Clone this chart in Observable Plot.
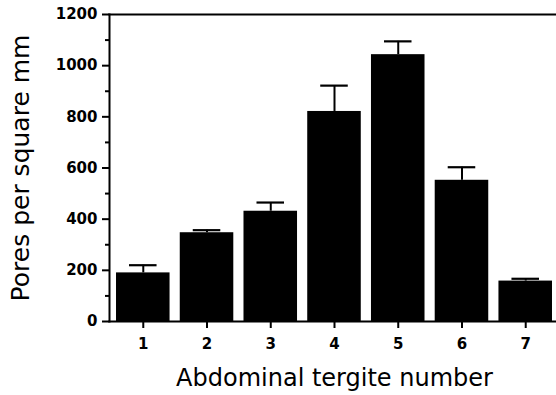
<!DOCTYPE html>
<html><head><meta charset="utf-8">
<script src="https://cdn.jsdelivr.net/npm/d3@7"></script>
<script src="https://cdn.jsdelivr.net/npm/@observablehq/plot@0.6"></script>
<style>body{margin:0;background:#fff} svg{display:block}</style>
</head><body><div id="chart"></div>
<script>
const tergites = ["1","2","3","4","5","6","7"];
const poresMean = [190, 347, 431, 821, 1043, 552, 158];
const poresUpper = [220, 357, 465, 922, 1095, 603, 167];
const yMajorTicks = [0, 200, 400, 600, 800, 1000, 1200];
const yMinorTicks = [100, 300, 500, 700, 900, 1100];
const xTitle = "Abdominal tergite number";
const yTitle = "Pores per square mm";

const data = tergites.map((t, i) => ({tergite: t, mean: poresMean[i], upper: poresUpper[i]}));
const font = "DejaVu Sans, sans-serif";

const chart = Plot.plot({
  width: 556, height: 395,
  marginLeft: 109, marginRight: -3, marginTop: 14, marginBottom: 74,
  style: {fontFamily: font, background: "#fff", color: "#000"},
  x: {domain: tergites, paddingInner: 0.16, paddingOuter: 0.11, round: false},
  y: {domain: [0, 1200]},
  marks: [
    Plot.barY(data, {x: "tergite", y: "mean", fill: "#000"}),
    Plot.ruleX(data, {x: "tergite", y1: "mean", y2: "upper", stroke: "#000", strokeWidth: 2}),
    Plot.tickY(data, {x: "tergite", y: "upper", stroke: "#000", strokeWidth: 2.2, insetLeft: 13, insetRight: 13}),
    Plot.frame({anchor: "left", strokeWidth: 2}),
    Plot.frame({anchor: "top", strokeWidth: 2}),
    Plot.frame({anchor: "bottom", strokeWidth: 2}),
    Plot.axisY(yMinorTicks, {tickSize: 4, strokeWidth: 2, tickFormat: () => "", label: null}),
    Plot.axisY(yMajorTicks, {tickSize: 7, tickPadding: 5, strokeWidth: 2, fontSize: 15, fontWeight: "bold", tickFormat: d => String(d), label: null}),
    Plot.axisY({ticks: [], tickSize: 0, label: yTitle, labelAnchor: "center", labelArrow: "none", labelOffset: 98, fontSize: 25}),
    Plot.axisX({tickSize: 7, tickPadding: 10, strokeWidth: 2, fontSize: 15, fontWeight: "bold", label: null}),
    Plot.axisX({ticks: [], tickSize: 0, label: xTitle, labelAnchor: "center", labelArrow: "none", labelOffset: 64, fontSize: 24})
  ]
});
document.getElementById("chart").appendChild(chart);
</script>
</body></html>
